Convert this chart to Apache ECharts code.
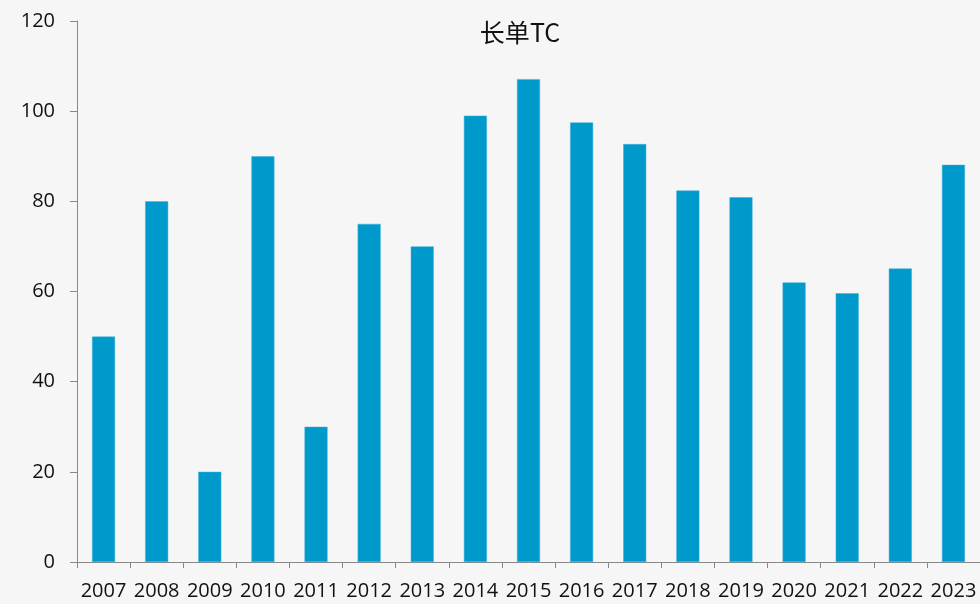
<!DOCTYPE html>
<html>
<head>
<meta charset="utf-8">
<script src="https://cdn.jsdelivr.net/npm/echarts@6/dist/echarts.min.js"></script>
<style>
  html, body { margin: 0; padding: 0; background: #f6f6f6; }
  #main { width: 980px; height: 604px; }
</style>
</head>
<body>
<div id="main"></div>
<script>
var years = ['2007', '2008', '2009', '2010', '2011', '2012', '2013', '2014', '2015',
             '2016', '2017', '2018', '2019', '2020', '2021', '2022', '2023'];
var tcValues = [50, 80, 20, 90, 30, 75, 70, 99, 107.1, 97.5, 92.7, 82.4, 80.9, 62, 59.6, 65.1, 88.1];

var chart = echarts.init(document.getElementById('main'));

var option = {
    backgroundColor: '#f6f6f6',
    animation: false,
    title: {
        text: '长单TC',
        left: 515,
        top: 15,
        textAlign: 'center',
        textStyle: {
            fontFamily: 'Noto Sans CJK SC',
            fontWeight: 'normal',
            fontSize: 25,
            color: '#111'
        }
    },
    grid: {
        left: 77,
        right: 0,
        top: 21,
        bottom: 42
    },
    xAxis: {
        type: 'category',
        data: years,
        axisLine: { lineStyle: { color: '#888' } },
        axisTick: { show: true, length: 6, lineStyle: { color: '#888' } },
        axisLabel: {
            interval: 0,
            margin: 19,
            fontSize: 20,
            fontFamily: 'Open Sans, sans-serif',
            color: '#111'
        }
    },
    yAxis: {
        type: 'value',
        min: 0,
        max: 120,
        interval: 20,
        axisLine: { show: true, lineStyle: { color: '#888' } },
        axisTick: { show: true, length: 7, lineStyle: { color: '#888' } },
        splitLine: { show: false },
        axisLabel: {
            margin: 22,
            fontSize: 20,
            fontFamily: 'Open Sans, sans-serif',
            color: '#111'
        }
    },
    series: [{
        name: '长单TC',
        type: 'bar',
        data: tcValues,
        barWidth: 23,
        itemStyle: {
            color: '#0099cc',
            borderColor: '#3fb0d8',
            borderWidth: 0.5
        }
    }]
};

chart.setOption(option);
</script>
</body>
</html>
